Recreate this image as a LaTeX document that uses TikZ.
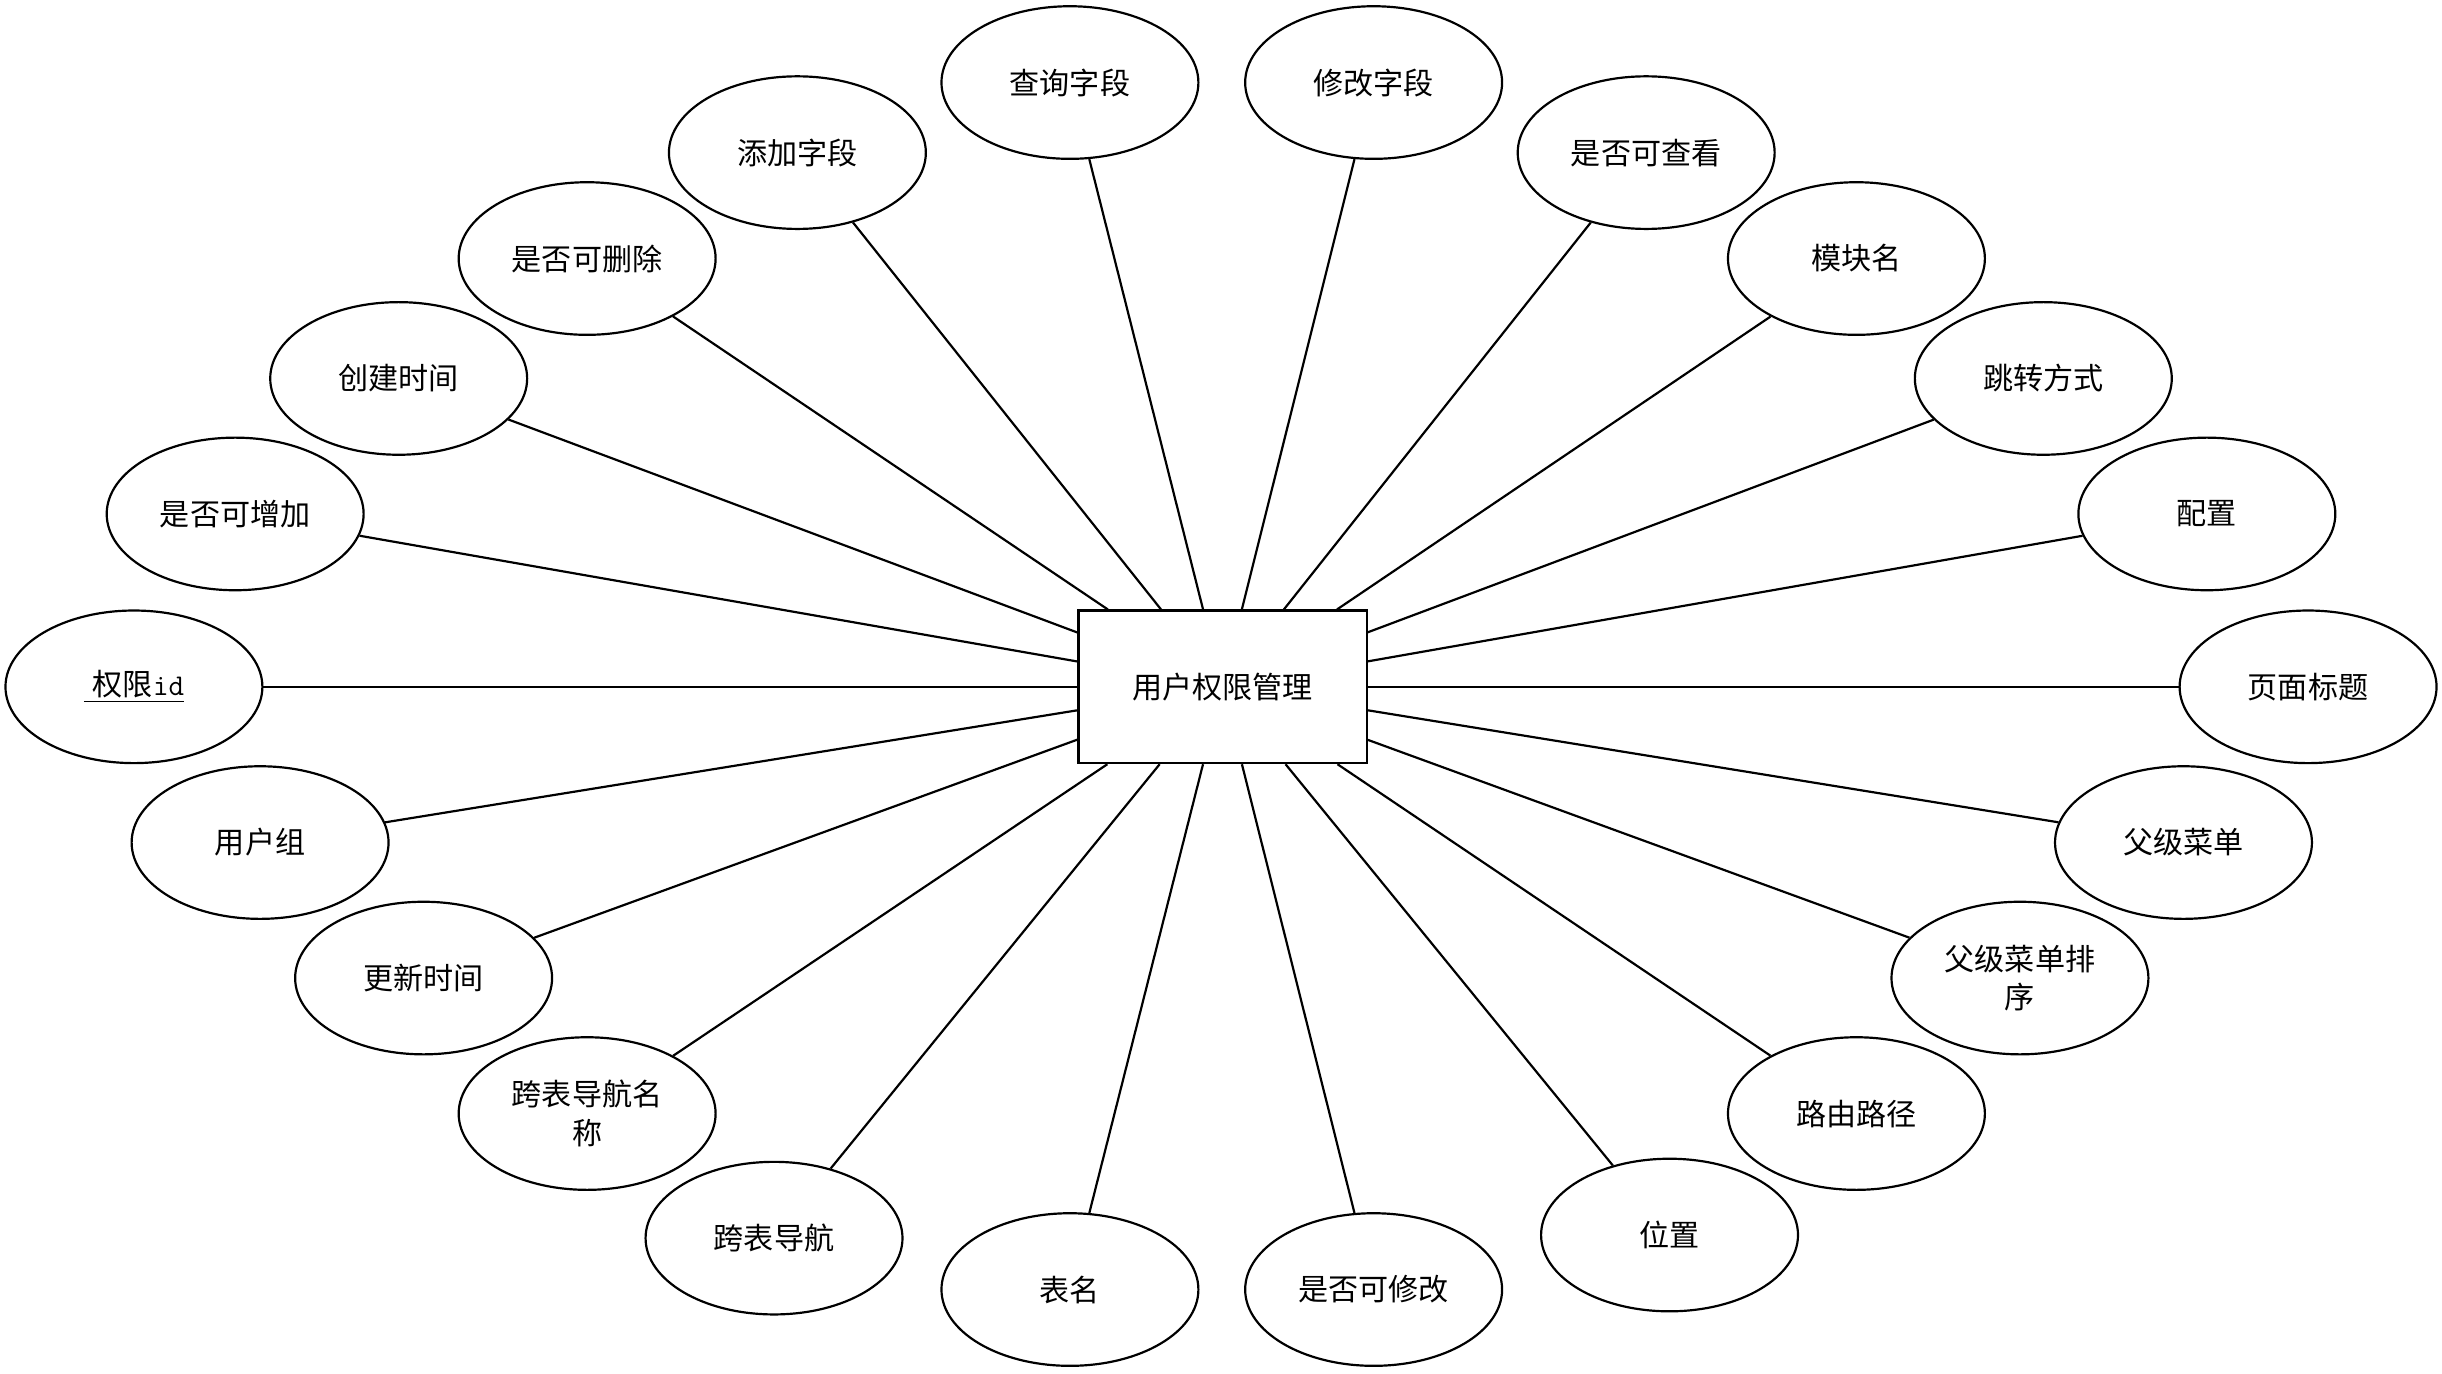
\documentclass[tikz,border=0pt]{standalone}
\usepackage{fontspec}
\newfontfamily\cjk{Noto Sans CJK SC}
\usetikzlibrary{shapes.geometric}
\begin{document}
\begin{tikzpicture}[x=0.02cm,y=-0.02cm,
  attr/.style={draw,line width=0.8pt,ellipse,minimum width=3.3cm,minimum height=1.96cm,inner sep=0pt,align=center,font=\cjk\fontsize{11}{14}\selectfont},
  ent/.style={draw,line width=0.8pt,rectangle,minimum width=3.7cm,minimum height=1.96cm,font=\cjk\fontsize{11}{14}\selectfont},
  lk/.style={line width=0.8pt}]
\useasboundingbox (0,0) rectangle (1568,882);
\node[ent] (c) at (785,441) {用户权限管理};
\node[attr] (a1) at (687,53) {查询字段};
\node[attr] (a2) at (882,53) {修改字段};
\node[attr] (a3) at (512,98) {添加字段};
\node[attr] (a4) at (1057,98) {是否可查看};
\node[attr] (a5) at (377,166) {是否可删除};
\node[attr] (a6) at (1192,166) {模块名};
\node[attr] (a7) at (256,243) {创建时间};
\node[attr] (a8) at (1312,243) {跳转方式};
\node[attr] (a9) at (151,330) {是否可增加};
\node[attr] (a10) at (1417,330) {配置};
\node[attr] (a11) at (86,441) {\underline{\hspace{0.3em}权限\texttt{id}}};
\node[attr] (a12) at (1482,441) {页面标题};
\node[attr] (a13) at (167,541) {用户组};
\node[attr] (a14) at (1402,541) {父级菜单};
\node[attr] (a15) at (272,628) {更新时间};
\node[attr] (a16) at (1297,628) {父级菜单排\\序};
\node[attr] (a17) at (377,715) {跨表导航名\\称};
\node[attr] (a18) at (1192,715) {路由路径};
\node[attr] (a19) at (497,795) {跨表导航};
\node[attr] (a20) at (1072,793) {位置};
\node[attr] (a21) at (687,828) {表名};
\node[attr] (a22) at (882,828) {是否可修改};
\foreach \i in {1,...,22} \draw[lk] (c) -- (a\i);
\end{tikzpicture}
\end{document}
